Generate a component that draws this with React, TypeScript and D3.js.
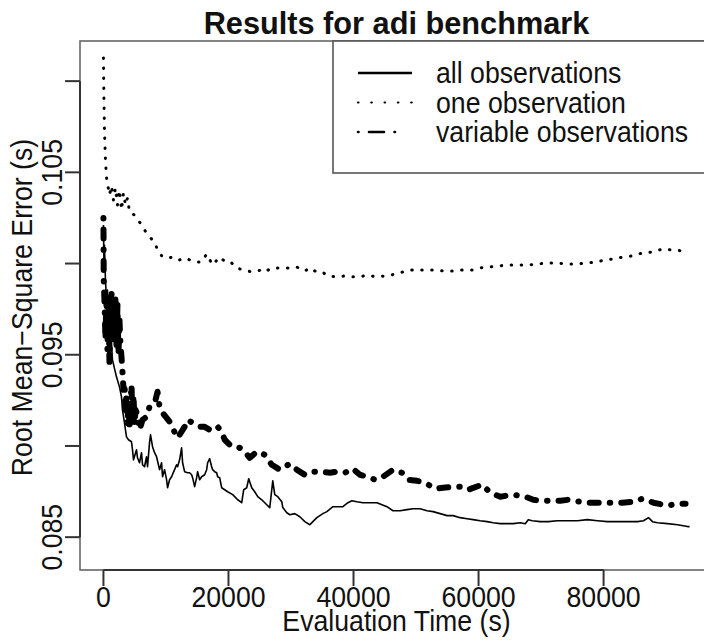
import React from "react";
import * as d3 from "d3";

// ---- data: [evaluation time (s), RMSE] ----
const allObservations: [number, number][] = [
  [0,0.10211],[80,0.10009],[160,0.10102],[321,0.09910],[481,0.09801],[641,0.09855],[801,0.09691],[962,0.09609],
  [1282,0.09565],[1442,0.09472],[2083,0.09379],[2564,0.09324],[2885,0.09269],[3045,0.09198],[3365,0.09127],[3686,0.09050],
  [4006,0.09034],[4487,0.09023],[4648,0.08979],[4808,0.08924],[5289,0.08979],[5449,0.08935],[5769,0.08908],[6090,0.08963],
  [6250,0.08897],[6571,0.08886],[6891,0.08941],[7051,0.08886],[7372,0.09018],[7532,0.09061],[7853,0.08996],[8173,0.08963],
  [8494,0.08941],[8975,0.08870],[9295,0.08908],[9455,0.08831],[9776,0.08870],[10096,0.08815],[10256,0.08771],[10577,0.08815],
  [10898,0.08831],[11378,0.08870],[11699,0.08897],[11859,0.08886],[12180,0.08924],[12500,0.08990],[12661,0.08908],[12981,0.08859],
  [13462,0.08853],[13782,0.08853],[14103,0.08842],[14263,0.08826],[14584,0.08777],[14904,0.08826],[15064,0.08859],[15385,0.08815],
  [15705,0.08831],[16186,0.08842],[16507,0.08870],[16667,0.08908],[16988,0.08930],[17308,0.08886],[17468,0.08870],[17789,0.08859],
  [18109,0.08853],[18270,0.08831],[18590,0.08826],[18911,0.08771],[19391,0.08760],[19872,0.08749],[20673,0.08733],[21475,0.08705],
  [22116,0.08689],[22436,0.08760],[22917,0.08771],[23238,0.08820],[23718,0.08771],[24199,0.08749],[24680,0.08722],[25321,0.08705],
  [26122,0.08678],[26603,0.08662],[27084,0.08809],[27404,0.08733],[27885,0.08722],[28526,0.08694],[28687,0.08662],[29328,0.08634],
  [29808,0.08623],[30610,0.08629],[31411,0.08612],[32212,0.08585],[33014,0.08568],[33494,0.08585],[34135,0.08607],[34616,0.08618],
  [35097,0.08629],[35738,0.08640],[36700,0.08667],[37501,0.08667],[38302,0.08667],[39103,0.08689],[39744,0.08700],[40546,0.08694],
  [41507,0.08689],[42309,0.08689],[43110,0.08689],[43751,0.08689],[44552,0.08678],[45354,0.08667],[46315,0.08645],[47437,0.08645],
  [48559,0.08651],[49521,0.08656],[50642,0.08656],[51764,0.08645],[52726,0.08640],[53847,0.08629],[54969,0.08618],[55931,0.08618],
  [57053,0.08607],[58174,0.08601],[59136,0.08596],[60258,0.08590],[61380,0.08585],[62341,0.08579],[63463,0.08574],[64585,0.08574],
  [65546,0.08574],[66668,0.08579],[67469,0.08574],[67950,0.08596],[68591,0.08590],[69873,0.08585],[71155,0.08585],[72597,0.08590],
  [74200,0.08590],[75802,0.08590],[77405,0.08596],[79008,0.08590],[80610,0.08585],[82213,0.08585],[83815,0.08585],[85418,0.08585],
  [86380,0.08590],[87181,0.08607],[87822,0.08585],[88623,0.08579],[90226,0.08574],[91829,0.08568],[93431,0.08558],[93751,0.08558],
];

const oneObservation: [number, number][] = [
  [0,0.11127],[80,0.10896],[160,0.10731],[321,0.10567],[481,0.10474],[641,0.10441],[962,0.10376],[1282,0.10425],
  [1603,0.10348],[1923,0.10414],[2244,0.10321],[2564,0.10403],[2885,0.10294],[3205,0.10386],[3526,0.10321],[3846,0.10359],
  [4167,0.10282],[4968,0.10266],[5769,0.10228],[6571,0.10184],[7372,0.10146],[8173,0.10118],[8654,0.10074],[9455,0.10036],
  [10256,0.10031],[11378,0.10036],[12180,0.10020],[12981,0.10031],[14584,0.10009],[15705,0.10009],[16507,0.10052],[17468,0.09992],
  [18590,0.10036],[19712,0.10003],[20513,0.10003],[21315,0.09976],[22276,0.09965],[23077,0.09959],[23879,0.09954],[25321,0.09965],
  [25802,0.09954],[26924,0.09976],[27885,0.09976],[29808,0.09976],[30930,0.09981],[32212,0.09959],[33014,0.09976],[33815,0.09959],
  [34776,0.09959],[35898,0.09932],[37341,0.09927],[38623,0.09932],[39905,0.09927],[41027,0.09927],[42148,0.09937],[43591,0.09927],
  [45033,0.09932],[45994,0.09937],[47437,0.09948],[48238,0.09959],[49521,0.09965],[51123,0.09965],[52726,0.09965],[54489,0.09959],
  [55931,0.09959],[57534,0.09965],[58976,0.09965],[60098,0.09976],[61700,0.09981],[63303,0.09987],[64585,0.09992],[66348,0.09992],
  [67950,0.09992],[69553,0.09998],[70995,0.10003],[72438,0.10003],[74200,0.09998],[75802,0.09998],[77565,0.10003],[79489,0.10014],
  [81412,0.10025],[83175,0.10036],[84617,0.10042],[86220,0.10058],[87822,0.10063],[89425,0.10080],[91027,0.10074],[92790,0.10069],
];

const variableObservations: [number, number][] = [
  [0,0.10250],[48,0.09910],[160,0.09801],[321,0.09582],[481,0.09828],[641,0.09527],[801,0.09801],[962,0.09461],
  [1122,0.09746],[1282,0.09855],[1442,0.09636],[1603,0.09801],[1763,0.09582],[1923,0.09828],[2083,0.09554],[2244,0.09773],
  [2404,0.09499],[2564,0.09691],[2724,0.09554],[2885,0.09489],[3045,0.09406],[3205,0.09308],[3365,0.09346],[3526,0.09198],
  [3686,0.09280],[3846,0.09116],[4006,0.09253],[4167,0.09089],[4327,0.09226],[4487,0.09335],[4648,0.09143],[4808,0.09280],
  [4968,0.09116],[5128,0.09198],[5449,0.09171],[5769,0.09089],[6250,0.09143],[6891,0.09160],[7372,0.09215],[7853,0.09226],
  [8333,0.09253],[8654,0.09297],[8975,0.09215],[9455,0.09182],[10096,0.09154],[10577,0.09133],[11058,0.09105],[11699,0.09045],
  [12180,0.09061],[12981,0.09105],[13462,0.09143],[14263,0.09127],[15385,0.09105],[16186,0.09105],[16988,0.09089],[17468,0.09105],
  [18270,0.09105],[18911,0.09078],[19391,0.09034],[20513,0.08996],[21795,0.08990],[22597,0.08968],[23398,0.08935],[24520,0.08968],
  [25802,0.08952],[26924,0.08897],[28206,0.08870],[29808,0.08902],[30930,0.08870],[32212,0.08842],[33494,0.08859],[34616,0.08859],
  [36219,0.08853],[37341,0.08859],[38623,0.08853],[39905,0.08875],[41027,0.08842],[42309,0.08831],[43431,0.08815],[44713,0.08831],
  [46315,0.08870],[47758,0.08853],[48719,0.08815],[50162,0.08809],[51444,0.08798],[53046,0.08766],[54328,0.08771],[55931,0.08777],
  [57373,0.08777],[58335,0.08760],[60578,0.08788],[61860,0.08744],[63463,0.08722],[65546,0.08733],[67469,0.08722],[68751,0.08705],
  [69873,0.08700],[71476,0.08700],[73078,0.08700],[74360,0.08705],[77084,0.08689],[79008,0.08689],[80771,0.08689],[83014,0.08689],
  [84777,0.08694],[86220,0.08711],[87982,0.08689],[90226,0.08673],[91829,0.08683],[93110,0.08683],
];

const xTicks = [0, 20000, 40000, 60000, 80000];
const yTicks = [0.085, 0.09, 0.095, 0.1, 0.105, 0.11];
const yTickLabels = ["0.085", "", "0.095", "", "0.105", ""];
const yDomain = [0.0832, 0.1122];
const legendLabels = ["all observations", "one observation", "variable observations"];
const titleText = "Results for adi benchmark";
const xTitle = "Evaluation Time (s)";
const yTitle = "Root Mean\u2212Square Error (s)";

const W = 704, H = 641;
const plot = { left: 80, right: 713, top: 41, bottom: 570 };
const FONT = "'Liberation Sans', Arial, Helvetica, sans-serif";
const FS = 29;
const SX = 0.92;

function Txt(props: { x: number; y: number; rot?: number; anchor?: string; size?: number; bold?: boolean; sx?: number; children: React.ReactNode }) {
  const { x, y, rot = 0, anchor = "middle", size = FS, bold = false, sx = SX } = props;
  return (
    <text
      transform={`translate(${x},${y}) rotate(${rot}) scale(${sx},1)`}
      textAnchor={anchor}
      fontSize={size}
      fontWeight={bold ? "bold" : "normal"}
      fill="#111"
    >
      {props.children}
    </text>
  );
}

export default function App() {
  const allX = [...allObservations, ...oneObservation, ...variableObservations].map(d => d[0]);
  const [xmin, xmax] = d3.extent(allX) as [number, number];
  const pad = (xmax - xmin) * 0.04;
  const x = d3.scaleLinear().domain([xmin - pad, xmax + pad]).range([plot.left, plot.right]);
  const y = d3.scaleLinear().domain(yDomain).range([plot.bottom, plot.top]);
  const line = d3.line<[number, number]>().x(d => x(d[0])).y(d => y(d[1]));

  const legendRows = [
    { label: legendLabels[0], stroke: 2.6, dash: undefined as string | undefined },
    { label: legendLabels[1], stroke: 2.2, dash: "0.5 12.8" },
    { label: legendLabels[2], stroke: 2.6, dash: "0.5 10.5 15 10.5 0.5 40" },
  ];

  return (
    <svg width={W} height={H} style={{ position: "absolute", left: 0, top: 0, background: "#fff" }} fontFamily={FONT}>
      <defs>
        <clipPath id="plotClip">
          <rect x={plot.left} y={plot.top} width={plot.right - plot.left} height={plot.bottom - plot.top} />
        </clipPath>
      </defs>
      <rect x={0} y={0} width={W} height={H} fill="#fff" />

      {/* series */}
      <g clipPath="url(#plotClip)" fill="none" stroke="#000">
        <path d={line(variableObservations) || ""} strokeWidth={6} strokeDasharray="0.5 11 9 11" strokeLinecap="round" strokeLinejoin="round" />
        <path d={line(allObservations) || ""} strokeWidth={1.6} strokeLinejoin="round" />
        <path d={line(oneObservation) || ""} strokeWidth={3} strokeDasharray="0.5 9.5" strokeLinecap="round" />
      </g>

      {/* box */}
      <rect x={plot.left} y={plot.top} width={plot.right - plot.left} height={plot.bottom - plot.top} fill="none" stroke="#666" strokeWidth={1.6} />

      {/* y axis */}
      <line x1={plot.left} x2={plot.left} y1={y(yTicks[0])} y2={y(yTicks[yTicks.length - 1])} stroke="#333" strokeWidth={2} />
      {yTicks.map((t, i) => (
        <g key={"yt" + i}>
          <line x1={plot.left - 15} x2={plot.left} y1={y(t)} y2={y(t)} stroke="#333" strokeWidth={2} />
          {yTickLabels[i] && <Txt x={62} y={y(t)} rot={-90}>{yTickLabels[i]}</Txt>}
        </g>
      ))}

      {/* x axis */}
      <line x1={x(xTicks[0])} x2={x(xTicks[xTicks.length - 1])} y1={plot.bottom} y2={plot.bottom} stroke="#333" strokeWidth={2} />
      {xTicks.map((t, i) => (
        <g key={"xt" + i}>
          <line x1={x(t)} x2={x(t)} y1={plot.bottom} y2={plot.bottom + 16} stroke="#333" strokeWidth={2} />
          <Txt x={x(t)} y={607}>{String(t)}</Txt>
        </g>
      ))}

      {/* titles */}
      <Txt x={(plot.left + plot.right) / 2} y={34} size={32} bold sx={0.96}>{titleText}</Txt>
      <Txt x={(plot.left + plot.right) / 2} y={631}>{xTitle}</Txt>
      <Txt x={32} y={(plot.top + plot.bottom) / 2 + 2} rot={-90}>{yTitle}</Txt>

      {/* legend */}
      <rect x={333} y={plot.top} width={plot.right - 333} height={132} fill="#fff" stroke="#555" strokeWidth={1.6} />
      {legendRows.map((r, i) => {
        const cy = 73 + i * 29.5;
        return (
          <g key={"lg" + i}>
            <line x1={358} x2={412} y1={cy} y2={cy} stroke="#000" strokeWidth={r.stroke} strokeDasharray={r.dash} strokeLinecap={r.dash ? "round" : "butt"} />
            <Txt x={436} y={cy + 10} anchor="start">{r.label}</Txt>
          </g>
        );
      })}
    </svg>
  );
}
